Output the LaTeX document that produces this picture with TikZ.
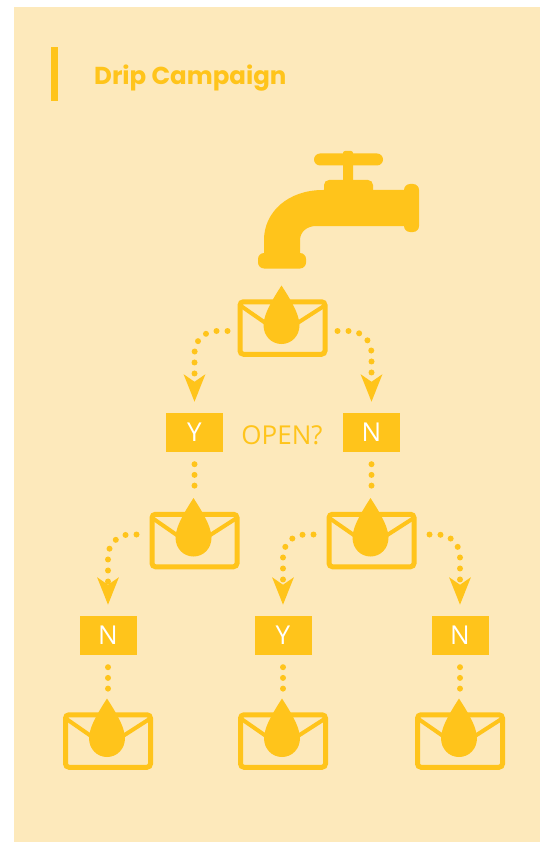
\documentclass[tikz,border=0pt]{standalone}
\usepackage{fontspec}
\setmainfont{Open Sans}
\newfontfamily\titlefont{Poppins}
\usetikzlibrary{arrows.meta, positioning}

\definecolor{panelbg}{HTML}{FDE9BB}
\definecolor{dripyellow}{HTML}{FFC41B}

\begin{document}
\begin{tikzpicture}[
  x=1pt, y=-1pt, on grid,
  mail/.style = {draw=dripyellow, line width=5pt, rounded corners=3.5pt, minimum width=85pt, minimum height=52.5pt, inner sep=0pt},
  answer/.style = {fill=dripyellow, text=white, minimum width=57pt, minimum height=39pt, inner sep=0pt, font=\fontsize{26}{26}\selectfont},
  dots/.style = {draw=dripyellow, line width=6pt, line cap=round, dash pattern=on 0pt off 10.7pt},
  branch/.style = {dots, dash pattern=on 0pt off 11pt on 0pt off 11pt on 0pt off 11pt on 0pt off 11pt on 0pt off 11pt on 0pt off 11pt on 0pt off 60pt, rounded corners=22pt, shorten >=11pt, -{Stealth[length=27pt, width=21pt, inset=7pt, sep=0pt]}, dripyellow},
  tap/.style = {fill=dripyellow}
]
\useasboundingbox (0,0) rectangle (540,842);
\fill[panelbg] (14,7) rectangle (540,842);

% Title
\fill[dripyellow] (51,47) rectangle (58,101);
\node[anchor=west, inner sep=0pt, text=dripyellow, font=\titlefont\bfseries\fontsize{24.5}{25}\selectfont] (title) at (94,78) {Drip Campaign};

% Tap
\fill[tap, rounded corners=6pt] (314,153.5) rectangle (383,165.5);
\fill[tap, rounded corners=2pt] (343,151) rectangle (353,182);
\fill[tap, rounded corners=5pt] (324,180) rectangle (373,200);
\fill[tap] (405,190) -- (323,190) .. controls (288,190) and (264,212) .. (264,240) -- (264,258) -- (300,258) -- (300,240) .. controls (300,232) and (307,226) .. (316,226) -- (405,226) -- cycle;
\fill[tap, rounded corners=6pt] (404,184) rectangle (419,232);
\fill[tap, rounded corners=6pt] (258,253) rectangle (306,268.5);

% Nodes
\node[mail] (mailA) at (282.5,328) {};
\node[answer, below left=104.5pt and 88pt of mailA] (yesA) {Y};
\node[answer, below right=104.5pt and 89pt of mailA] (noA) {N};
\node[anchor=center, inner sep=0pt, text=dripyellow, font=\fontsize{26}{26}\selectfont] (open) at (282,435) {OPEN?};
\node[mail, below=108pt of yesA] (mailB) {};
\node[mail, below=108pt of noA] (mailC) {};
\node[answer, below left=95pt and 86.5pt of mailB] (noB) {N};
\node[answer, below left=95pt and 88.5pt of mailC] (yesC) {Y};
\node[answer, below right=95pt and 88.5pt of mailC] (noC) {N};
\node[mail, below=105.5pt of noB] (mailD) {};
\node[mail, below=105.5pt of yesC] (mailE) {};
\node[mail, below=105.5pt of noC] (mailF) {};

% Flap and drop of every mail
\foreach \m in {mailA, mailB, mailC, mailD, mailE, mailF} {
  \begin{scope}[shift={(\m.center)}]
    \draw[dripyellow, line width=4pt] (-41.5,-22) -- (-17,-5);
    \draw[dripyellow, line width=4pt] (41.5,-22) -- (15,-5);
    \fill[dripyellow] (-1,-42.5) .. controls (-7,-33) and (-19,-15) .. (-19,-3) .. controls (-19,8) and (-11,16) .. (-1,16) .. controls (9,16) and (17,8) .. (17,-3) .. controls (17,-15) and (5,-33) .. (-1,-42.5) -- cycle;
  \end{scope}
}

% Connections
\draw[branch, shorten <=10pt] ([yshift=-3pt]mailA.east) -| (noA.north);
\draw[branch, shorten <=10pt] ([yshift=-3pt]mailA.west) -| (yesA.north);
\draw[branch, shorten <=13pt] ([yshift=6pt]mailB.west) -| (noB.north);
\draw[branch, shorten <=13pt] ([yshift=6pt]mailC.west) -| (yesC.north);
\draw[branch, shorten <=13pt] ([yshift=6pt]mailC.east) -| (noC.north);

\foreach \a/\b in {yesA/mailB, noA/mailC, noB/mailD, yesC/mailE, noC/mailF} {
  \draw[dots, shorten <=12pt, shorten >=20pt] (\a.south) -- (\b.north);
}
\end{tikzpicture}
\end{document}
